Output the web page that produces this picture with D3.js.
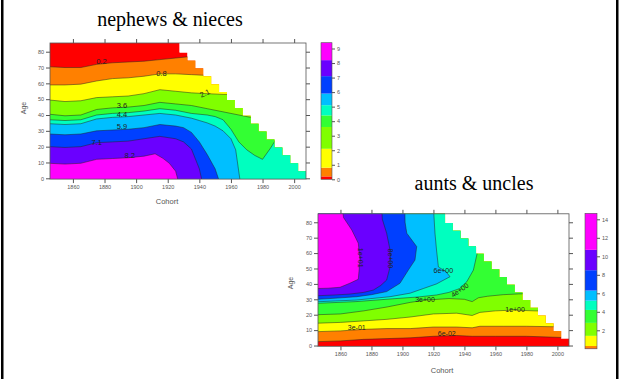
<!DOCTYPE html>
<html>
<head>
<meta charset="utf-8">
<script src="https://cdn.jsdelivr.net/npm/d3@7"></script>
<style>
  body { margin: 0; background: #fff; }
  svg { display: block; }
</style>
</head>
<body>
<svg width="621" height="379" font-family="'Liberation Sans', Arial, sans-serif"></svg>
<script>
// ---- shared axes / palette ----
const cohortRange = [1845.5, 2007.5];
const ageRange = [-0.5, 85.5];
const cohortTicks = [1860, 1880, 1900, 1920, 1940, 1960, 1980, 2000];
const ageTicks = [0, 10, 20, 30, 40, 50, 60, 70, 80];
const bandColors = ['#ff0000', '#ff8000', '#ffff00', '#80ff00', '#33ff33',
  '#00ffbf', '#00bfff', '#0040ff', '#6a00ff', '#ff00ff'];

// staircase edge of the data (left edge of each column, top age)
const stairCohort = [1845.5, 1927.5, 1932.5, 1937.5, 1942.5, 1947.5, 1952.5, 1957.5, 1962.5,
  1967.5, 1972.5, 1977.5, 1982.5, 1987.5, 1992.5, 1997.5, 2002.5];
const stairTop = [85.5, 79.5, 74.5, 69.5, 64.5, 59.5, 54.5, 49.5, 44.5,
  39.5, 34.5, 29.5, 24.5, 19.5, 14.5, 9.5, 4.5];

// ---- nephews & nieces: contour levels and their lines [cohort, age] ----
const nephewLevels = [0, 0.2, 0.8, 2.1, 3.6, 4.4, 5.1, 5.9, 7.1, 8.2, 9.4];
const nephewKeyTicks = [0, 1, 2, 3, 4, 5, 6, 7, 8, 9];
const nephew02 = [[1845, 70.5], [1855, 70], [1865, 70], [1875, 72], [1885, 73], [1895, 73.5], [1905, 74], [1915, 75], [1925, 76], [1935, 77], [1945, 78], [2010, 78]];
const nephew08 = [[1845, 59], [1855, 59], [1865, 59.5], [1875, 61.5], [1885, 63], [1895, 63.5], [1905, 64.5], [1915, 66], [1925, 66], [1935, 65.5], [1945, 65], [2010, 65]];
const nephew21 = [[1845, 49.5], [1855, 48.5], [1865, 49], [1875, 51], [1885, 51.5], [1895, 52], [1905, 53.5], [1915, 56], [1925, 55], [1935, 54], [1945, 53.5], [1955, 53], [2010, 53]];
const nephew36 = [[1845, 40.5], [1855, 39.5], [1865, 40], [1875, 43.5], [1885, 44.5], [1895, 45], [1905, 46], [1915, 48], [1925, 47], [1935, 46], [1945, 44], [1955, 42], [1965, 40], [1975, 38], [2010, 36]];
const nephew44 = [[1845, 37], [1855, 36.5], [1865, 37], [1875, 40], [1885, 41], [1895, 41.5], [1905, 42.5], [1915, 44], [1925, 43], [1935, 41], [1945, 40], [1950, 39], [1955, 37], [1960, 31], [1965, 23], [1970, 18], [1975, 14.5], [1980, 12], [1985, 19], [1990, 27], [2000, 40], [2010, 45]];
const nephew51 = [[1845, 34.5], [1855, 34], [1865, 34.5], [1875, 37.5], [1885, 38.5], [1895, 39], [1905, 40], [1915, 41], [1925, 40], [1935, 38], [1940, 36.5], [1945, 35], [1950, 33], [1955, 30], [1960, 25], [1963, 18], [1965, 4], [1966, -3]];
const nephew59 = [[1845, 28], [1855, 27.5], [1865, 28], [1875, 30], [1885, 30.5], [1895, 31], [1905, 32], [1915, 34], [1925, 33], [1930, 32], [1935, 29], [1940, 23], [1945, 15], [1950, 6], [1953, -3]];
const nephew71 = [[1845, 20], [1855, 19.5], [1865, 20], [1875, 22.5], [1885, 23], [1895, 23.5], [1905, 25], [1915, 26.5], [1925, 25], [1930, 23], [1935, 18.5], [1940, 6], [1942, -3]];
const nephew82 = [[1845, 9.5], [1855, 9], [1865, 9.5], [1875, 12], [1885, 12.5], [1895, 13], [1905, 14], [1912, 15.5], [1917, 12.6], [1921, 9.5], [1925, 4.5], [1927, -3]];
const nephewLabelText = ['0.2', '0.8', '2.1', '3.6', '4.4', '5.9', '7.1', '8.2'];
const nephewLabelCohort = [1878, 1916, 1943.5, 1891, 1891, 1891, 1875, 1896];
const nephewLabelAge = [73.7, 66.3, 53.7, 45.7, 40.3, 32.6, 22.5, 14.3];
const nephewLabelAngle = [0, 0, -25, 0, 0, 0, 0, 0];

// ---- aunts & uncles ----
const uncleLevels = [0, 0.06, 0.3, 1.4, 2.8, 4.2, 5.2, 6.3, 8.5, 10.7, 14.65];
const uncleKeyTicks = [2, 4, 6, 8, 10, 12, 14];
const uncle006 = [[1845, 2.5], [1860, 3], [1875, 4], [1890, 4.5], [1905, 5], [1920, 6], [1935, 6.5], [1945, 6], [1960, 6], [1980, 6], [1995, 5.5], [2010, 5]];
const uncle03 = [[1845, 9], [1860, 9.5], [1875, 10.5], [1890, 11], [1905, 11], [1920, 12], [1935, 12], [1945, 11.5], [1950, 12.5], [1965, 12.5], [1980, 12.5], [2010, 12]];
const uncle14 = [[1845, 14.5], [1860, 15], [1875, 16], [1890, 17], [1905, 18.5], [1920, 20.5], [1935, 21], [1945, 19.5], [1950, 21.5], [1960, 22.5], [1972, 23], [1985, 22.5], [2010, 22]];
const uncle28 = [[1845, 20], [1860, 20.5], [1875, 22.5], [1890, 25], [1905, 28], [1915, 29.5], [1930, 30.5], [1940, 30], [1945, 28.5], [1949, 31], [1955, 32], [1965, 33], [1975, 33.5], [2010, 34]];
const uncle42 = [[1845, 27.4], [1870, 28.5], [1892, 30.2], [1910, 31.5], [1922, 32.8], [1930, 34.5], [1937, 37], [1941.5, 41.4], [1945.8, 49], [1948, 58.8], [1950, 66]];
const uncle52 = [[1845, 28.4], [1870, 29.5], [1892, 31.7], [1905, 34], [1913.5, 37], [1922, 40], [1930.7, 44.7], [1928, 48], [1923.2, 51], [1922, 62], [1921, 72.9], [1920, 90]];
const uncle63 = [[1845, 30], [1858, 30.8], [1870.5, 31.7], [1880, 33], [1889.8, 35], [1898.4, 40.4], [1903.8, 49], [1908.1, 55.5], [1909.2, 64.2], [1902.8, 72.9], [1901.7, 80], [1901.5, 90]];
const uncle85 = [[1845, 32.3], [1856, 32.8], [1866, 33.4], [1875, 34.5], [1881.2, 36], [1886, 39], [1889.8, 42.5], [1892, 51], [1892, 62], [1889.8, 72.9], [1887, 82], [1886.6, 90]];
const uncle107 = [[1845, 37], [1852, 37.2], [1859.7, 37.8], [1866, 40.4], [1871.5, 43], [1872.6, 55.5], [1871.5, 66.4], [1867.3, 75], [1862, 83], [1861, 90]];
const uncleLabelText = ['1e+01', '8e+00', '6e+00', '4e+00', '3e+00', '1e+00', '3e-01', '6e-02'];
const uncleLabelCohort = [1873, 1892, 1926.4, 1937, 1914.6, 1972.7, 1870.5, 1928.6];
const uncleLabelAge = [57, 56.6, 48.6, 36, 30, 23.5, 11.6, 7.9];
const uncleLabelAngle = [90, 90, 0, -35, 0, 0, 0, 0];

const svg = d3.select('svg');
const defs = svg.append('defs');

// outer slide frame
svg.append('rect').attr('x', 1).attr('y', 0).attr('width', 2.5).attr('height', 379).attr('fill', '#000');
svg.append('rect').attr('x', 616).attr('y', 0).attr('width', 2.5).attr('height', 379).attr('fill', '#000');

function drawPanel(o) {
  const x = d3.scaleLinear().domain(cohortRange).range([o.left, o.right]);
  const y = d3.scaleLinear().domain(ageRange).range([o.bottom, o.top]);
  const line = d3.line().x(d => x(d[0])).y(d => y(d[1]));

  // clip to the staircase of available data
  const stair = [[stairCohort[0], ageRange[0]]];
  stairCohort.forEach((c, i) => {
    const next = i < stairCohort.length - 1 ? stairCohort[i + 1] : cohortRange[1];
    stair.push([c, stairTop[i]], [next, stairTop[i]]);
  });
  stair.push([cohortRange[1], ageRange[0]]);
  defs.append('clipPath').attr('id', o.id).append('path').attr('d', line(stair) + 'Z');

  const fills = svg.append('g').attr('clip-path', `url(#${o.id})`);
  fills.append('path').attr('d', line(stair) + 'Z').attr('fill', bandColors[0]);
  o.lines.forEach((pts, i) => {
    const a = pts[0], b = pts[pts.length - 1];
    const poly = pts.concat([[b[0], o.closeAge], [a[0], o.closeAge]]);
    fills.append('path').attr('d', line(poly) + 'Z').attr('fill', bandColors[i + 1]);
  });
  o.lines.forEach(pts => {
    fills.append('path').attr('d', line(pts)).attr('fill', 'none')
      .attr('stroke', '#222').attr('stroke-opacity', 0.7).attr('stroke-width', 0.7);
  });

  // contour labels
  o.labelText.forEach((t, i) => {
    const px = x(o.labelCohort[i]), py = y(o.labelAge[i]);
    svg.append('text').attr('x', px).attr('y', py)
      .attr('transform', `rotate(${o.labelAngle[i]},${px},${py})`)
      .attr('text-anchor', 'middle').attr('dominant-baseline', 'central')
      .attr('font-size', o.labelSize).attr('fill', '#222').text(t);
  });

  // frame and axes
  svg.append('rect').attr('x', o.left).attr('y', o.top)
    .attr('width', o.right - o.left).attr('height', o.bottom - o.top)
    .attr('fill', 'none').attr('stroke', '#555').attr('stroke-width', 0.8);

  const styleAxis = g => {
    g.select('.domain').remove();
    g.selectAll('line').attr('stroke', '#555');
    g.selectAll('text').attr('fill', '#555').attr('font-size', 5.5)
      .attr('font-family', '"Liberation Sans", Arial, sans-serif');
  };
  svg.append('g').attr('transform', `translate(0,${o.bottom})`)
    .call(d3.axisBottom(x).tickValues(cohortTicks).tickSize(4).tickPadding(2).tickFormat(d3.format('d')))
    .call(styleAxis);
  svg.append('g').attr('transform', `translate(0,${o.top})`)
    .call(d3.axisTop(x).tickValues(cohortTicks).tickSize(4).tickFormat(''))
    .call(styleAxis);
  svg.append('g').attr('transform', `translate(${o.left},0)`)
    .call(d3.axisLeft(y).tickValues(ageTicks).tickSize(4).tickPadding(2))
    .call(styleAxis);
  svg.append('g').attr('transform', `translate(${o.right},0)`)
    .call(d3.axisRight(y).tickValues(ageTicks).tickSize(4).tickFormat(''))
    .call(styleAxis);

  svg.append('text').attr('x', o.xlabX).attr('y', o.xlabY).attr('text-anchor', 'middle')
    .attr('font-size', 7.5).attr('fill', '#555').text('Cohort');
  svg.append('text').attr('transform', `translate(${o.ylabX},${o.ylabY}) rotate(-90)`)
    .attr('text-anchor', 'middle').attr('font-size', 7).attr('fill', '#555').text('Age');

  // title
  svg.append('text').attr('x', o.titleX).attr('y', o.titleY).attr('text-anchor', 'middle')
    .attr('font-family', '"Liberation Serif", "Times New Roman", serif')
    .attr('font-size', 20).attr('fill', '#000').text(o.title);

  // colour key
  const k = d3.scaleLinear().domain([0, o.levels[o.levels.length - 1]]).range([o.keyBottom, o.keyTop]);
  for (let i = 0; i < o.levels.length - 1; i++) {
    svg.append('rect').attr('x', o.keyLeft).attr('width', o.keyWidth)
      .attr('y', k(o.levels[i + 1])).attr('height', k(o.levels[i]) - k(o.levels[i + 1]))
      .attr('fill', bandColors[i]);
  }
  svg.append('rect').attr('x', o.keyLeft).attr('y', o.keyTop).attr('width', o.keyWidth)
    .attr('height', o.keyBottom - o.keyTop).attr('fill', 'none')
    .attr('stroke', '#555').attr('stroke-width', 0.6);
  svg.append('g').attr('transform', `translate(${o.keyLeft + o.keyWidth},0)`)
    .call(d3.axisRight(k).tickValues(o.keyTicks).tickSize(3).tickPadding(2).tickFormat(d3.format('d')))
    .call(styleAxis);
}

drawPanel({
  id: 'clipNephew', title: 'nephews & nieces', titleX: 170, titleY: 26,
  left: 50, right: 306, top: 43, bottom: 179.1,
  lines: [nephew02, nephew08, nephew21, nephew36, nephew44, nephew51, nephew59, nephew71, nephew82],
  closeAge: -10, levels: nephewLevels, keyTicks: nephewKeyTicks,
  labelText: nephewLabelText, labelCohort: nephewLabelCohort, labelAge: nephewLabelAge,
  labelAngle: nephewLabelAngle, labelSize: 7.5,
  xlabX: 167, xlabY: 204, ylabX: 26, ylabY: 108,
  keyLeft: 321, keyWidth: 11, keyTop: 42.7, keyBottom: 179.3
});

drawPanel({
  id: 'clipUncle', title: 'aunts & uncles', titleX: 474, titleY: 190,
  left: 318, right: 569, top: 213.8, bottom: 346.3,
  lines: [uncle006, uncle03, uncle14, uncle28, uncle42, uncle52, uncle63, uncle85, uncle107],
  closeAge: 100, levels: uncleLevels, keyTicks: uncleKeyTicks,
  labelText: uncleLabelText, labelCohort: uncleLabelCohort, labelAge: uncleLabelAge,
  labelAngle: uncleLabelAngle, labelSize: 7,
  xlabX: 442, xlabY: 373, ylabX: 293, ylabY: 283,
  keyLeft: 585, keyWidth: 12, keyTop: 213.3, keyBottom: 348.8
});
</script>
</body>
</html>
